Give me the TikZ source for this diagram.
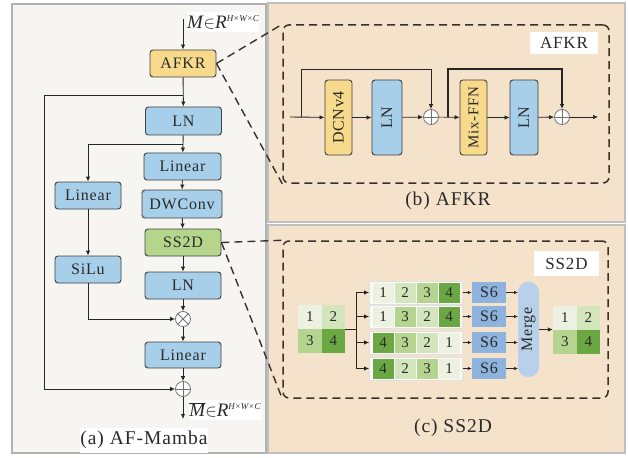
\documentclass[tikz,border=0pt]{standalone}
\usepackage{fontspec}
\setmainfont{Liberation Serif}[LetterSpace=5]
\newfontfamily\mathlike{Liberation Serif}
\usetikzlibrary{arrows.meta,calc}
\definecolor{panelA}{HTML}{F6F5F1}
\definecolor{panelB}{HTML}{F5E2CB}
\definecolor{blueb}{HTML}{A7CFEA}
\definecolor{yellowb}{HTML}{F8DA8C}
\definecolor{greenb}{HTML}{B6D58C}
\definecolor{cA}{HTML}{EDF1E2}
\definecolor{cB}{HTML}{D3E5BD}
\definecolor{cC}{HTML}{B4D48F}
\definecolor{cD}{HTML}{6BA843}
\definecolor{sixb}{HTML}{8DB3DE}
\definecolor{mergeb}{HTML}{B9D0EA}
\definecolor{dashc}{HTML}{3A302B}
\definecolor{txt}{HTML}{2A2A2A}
\newcommand{\shapetxt}{{\raisebox{7pt}{\fontsize{9}{9}\selectfont\mathlike\itshape H×W×C}}}
\tikzset{
  box/.style={draw=black!75, line width=0.9pt, rounded corners=3pt, inner sep=0pt,
    font=\fontsize{16}{18}\selectfont, text=txt},
  bluebox/.style={box, fill=blueb},
  yelbox/.style={box, fill=yellowb},
  grnbox/.style={box, fill=greenb},
  arr/.style={-{Latex[length=5pt,width=4.5pt]}, line width=0.9pt, draw=black!85},
  plainline/.style={line width=0.9pt, draw=black!85},
  sarr/.style={-{Latex[length=4pt,width=3.5pt]}, line width=0.7pt, draw=black!85},
  opnode/.style={circle, draw=black!55, fill=white, line width=0.8pt, minimum size=15pt, inner sep=0pt},
  dashbox/.style={draw=dashc, line width=1.5pt, dash pattern=on 8pt off 5pt, rounded corners=6pt, inner sep=0pt},
  dashconn/.style={draw=dashc, line width=1.4pt, dash pattern=on 8pt off 5pt},
  lblwhite/.style={fill=white, inner sep=0pt, font=\fontsize{17}{19}\selectfont, text=txt},
  caption/.style={font=\fontsize{19.5}{21}\selectfont, text=txt},
  cell/.style={minimum width=21pt, minimum height=20pt, inner sep=0pt, font=\fontsize{15}{16}\selectfont, text=txt},
  bigcell/.style={minimum width=23.5pt, minimum height=24pt, inner sep=0pt, font=\fontsize{15}{16}\selectfont, text=txt},
  rowbox/.style={draw=black!12, fill=white!70!cA, line width=0.8pt, minimum width=93pt, minimum height=23pt, inner sep=0pt},
  sixbox/.style={fill=sixb, minimum width=34pt, minimum height=21pt, inner sep=0pt, font=\fontsize{16}{18}\selectfont, text=txt},
}
\begin{document}
\begin{tikzpicture}[x=1pt,y=-1pt]
\useasboundingbox (0,0) rectangle (628,457);
% panels
\fill[white] (0,0) rectangle (628,457);
\draw[fill=panelA, draw=black!30, line width=1.2pt] (12,4) rectangle (266,453);
\draw[fill=panelB, draw=black!25, line width=1.2pt] (268,3) rectangle (625,222);
\draw[fill=panelB, draw=black!25, line width=1.2pt] (268,225) rectangle (625,453);

% ---------- (a) AF-Mamba ----------
\node[lblwhite, minimum width=70pt, minimum height=20pt, font=\fontsize{19}{21}\selectfont\mathlike] (inM) at (223,22) {\textit{M}$\in$\textit{R}\shapetxt};
\coordinate (top) at (183,19);
\node[yelbox, minimum width=66pt, minimum height=27pt] (afkr) at (183,63.5) {AFKR};
\node[bluebox, minimum width=76pt, minimum height=28pt] (ln1) at (183.5,121) {LN};
\node[bluebox, minimum width=77pt, minimum height=27pt] (lin1) at (182.5,166.5) {Linear};
\node[bluebox, minimum width=66pt, minimum height=27pt] (linL) at (88,195.5) {Linear};
\node[bluebox, minimum width=80pt, minimum height=28pt] (dw) at (182,204) {DWConv};
\node[grnbox, minimum width=76pt, minimum height=27pt] (ss) at (183,242.5) {SS2D};
\node[bluebox, minimum width=66pt, minimum height=27pt] (silu) at (88,269.5) {SiLu};
\node[bluebox, minimum width=76pt, minimum height=27pt] (ln2) at (183,285.5) {LN};
\node[opnode] (ot) at (183,319) {};
\draw[black!55, line width=0.8pt] (ot.45) -- (ot.225) (ot.135) -- (ot.315);
\node[bluebox, minimum width=76pt, minimum height=26pt] (lin3) at (183,355) {Linear};
\node[opnode] (op) at (183,389) {};
\draw[black!55, line width=0.8pt] (op.north) -- (op.south) (op.west) -- (op.east);
\coordinate (outa) at (183,419);
\node[lblwhite, minimum width=70pt, minimum height=20pt, font=\fontsize{19}{21}\selectfont\mathlike] (outM) at (225,410) {$\overline{\mbox{\itshape M}}$$\in$\textit{R}\shapetxt};
\node[caption, fill=white, minimum width=122pt, minimum height=25pt, inner sep=0pt] (capa) at (144,440) {(a) AF-Mamba};

\coordinate (b1) at (183,95);
\coordinate (k1) at (44,95);
\coordinate (k2) at (44,389);
\coordinate (b2) at (183,144);
\coordinate (k3) at (88,144);

\draw[arr] (top) -- (afkr);
\draw[arr] (afkr) -- (ln1);
\draw[arr] (b1) -- (k1) -- (k2) -- (op);
\draw[arr] (ln1) -- (lin1);
\draw[arr] (b2) -- (k3) -- (linL);
\draw[arr] (lin1) -- (dw);
\draw[arr] (dw) -- (ss);
\draw[arr] (linL) -- (silu);
\draw[arr] (ss) -- (ln2);
\draw[arr] (ln2) -- (ot);
\draw[arr] (silu) |- (ot);
\draw[arr] (ot) -- (lin3);
\draw[arr] (lin3) -- (op);
\draw[arr] (op) -- (outa);

% ---------- (b) AFKR ----------
\node[dashbox, minimum width=326pt, minimum height=158pt] (dashb) at (446,104) {};
\node[lblwhite, minimum width=68pt, minimum height=22pt] (lblb) at (564,43) {AFKR};
\coordinate (inb) at (290,117);
\coordinate (br1) at (301,117);
\coordinate (up1) at (301,69);
\node[yelbox, rotate=90, minimum width=75pt, minimum height=27pt] (dcn) at (338.5,117.5) {DCNv4};
\node[bluebox, rotate=90, minimum width=75pt, minimum height=30pt] (lnb1) at (387,117.5) {LN};
\node[opnode] (op1) at (431,117) {};
\draw[black!55, line width=0.8pt] (op1.north) -- (op1.south) (op1.west) -- (op1.east);
\coordinate (br2) at (448,117);
\coordinate (up2) at (448,69);
\node[yelbox, rotate=90, minimum width=75pt, minimum height=27pt, font=\fontsize{15}{17}\selectfont] (mix) at (473.5,117.5) {Mix-FFN};
\node[bluebox, rotate=90, minimum width=75pt, minimum height=28pt] (lnb2) at (524,117.5) {LN};
\node[opnode] (op2) at (562,117) {};
\draw[black!55, line width=0.8pt] (op2.north) -- (op2.south) (op2.west) -- (op2.east);
\coordinate (outb) at (598,117);
\node[caption] (capb) at (448,201) {(b) AFKR};

\draw[arr] (inb) -- (dcn);
\draw[arr, line width=0.8pt] (br1) -- (up1) -| (op1);
\draw[arr] (dcn) -- (lnb1);
\draw[arr, line width=0.7pt] (lnb1) -- (op1);
\draw[arr, line width=0.7pt] (op1) -- (mix);
\draw[arr, line width=1.1pt] (br2) -- (up2) -| (op2);
\draw[arr, line width=0.7pt] (mix) -- (lnb2);
\draw[arr] (lnb2) -- (op2);
\draw[arr, line width=0.7pt] (op2) -- (outb);

% ---------- (c) SS2D ----------
\node[dashbox, minimum width=325pt, minimum height=157pt] (dashcbox) at (445.5,319.5) {};
\node[lblwhite, minimum width=65pt, minimum height=25pt] (lblc) at (566.5,263.5) {SS2D};

% input grid
\node[minimum width=47pt, minimum height=48pt, inner sep=0pt] (gin) at (321.5,329) {};
\node[bigcell, fill=cA] at (309.75,317) {1};
\node[bigcell, fill=cB] at (333.25,317) {2};
\node[bigcell, fill=cC] at (309.75,341) {3};
\node[bigcell, fill=cD] at (333.25,341) {4};

% rows
\node[rowbox] (r1) at (416,292.5) {};
\node[rowbox] (r2) at (416,316.5) {};
\node[rowbox] (r3) at (416,342.5) {};
\node[rowbox] (r4) at (416,368.5) {};
\foreach \y/\a/\ca/\b/\cb/\c/\cc/\d/\cd in
  {292.5/1/cA/2/cB/3/cC/4/cD,
   316.5/1/cA/3/cC/2/cB/4/cD,
   342.5/4/cD/3/cC/2/cB/1/cA,
   368.5/4/cD/2/cB/3/cC/1/cA}{
  \node[cell, fill=\ca] at (383,\y) {\a};
  \node[cell, fill=\cb] at (405,\y) {\b};
  \node[cell, fill=\cc] at (427,\y) {\c};
  \node[cell, fill=\cd] at (449,\y) {\d};
}
\coordinate (bc) at (356,329);
\coordinate (bt) at (356,292.5);
\coordinate (bb) at (356,368.5);
\draw[plainline] (gin.east) -- (bc);
\draw[plainline] (bt) -- (bb);
\draw[arr] (bt) -- (r1);
\draw[arr] (bc |- r2) -- (r2);
\draw[arr] (bc |- r3) -- (r3);
\draw[arr] (bb) -- (r4);

% S6
\node[sixbox] (s1) at (489,292.5) {S6};
\node[sixbox] (s2) at (489,316.5) {S6};
\node[sixbox] (s3) at (489,342.5) {S6};
\node[sixbox] (s4) at (489,368.5) {S6};
\draw[sarr] (r1) -- (s1);
\draw[sarr] (r2) -- (s2);
\draw[sarr] (r3) -- (s3);
\draw[sarr] (r4) -- (s4);

% Merge
\node[fill=mergeb, rotate=90, rounded corners=10pt, minimum width=95pt, minimum height=21pt, inner sep=0pt, font=\fontsize{16}{18}\selectfont, text=txt] (merge) at (528.5,329.5) {Merge};
\coordinate (mL) at (518,329.5);
\draw[sarr] (s1) -- (s1 -| mL);
\draw[sarr] (s2) -- (s2 -| mL);
\draw[sarr] (s3) -- (s3 -| mL);
\draw[sarr] (s4) -- (s4 -| mL);

% output grid
\node[minimum width=47pt, minimum height=48pt, inner sep=0pt] (gout) at (576.5,329.5) {};
\node[bigcell, fill=cA] at (564.75,317.5) {1};
\node[bigcell, fill=cB] at (588.25,317.5) {2};
\node[bigcell, fill=cC] at (564.75,341.5) {3};
\node[bigcell, fill=cD] at (588.25,341.5) {4};
\draw[arr] (merge) -- (gout);

\node[caption] (capc) at (453,428) {(c) SS2D};

% dashed zoom connectors
\draw[dashconn] (afkr.east) -- (dashb.north west);
\draw[dashconn] (afkr.east) -- (dashb.south west);
\draw[dashconn] (ss.east) -- (dashcbox.north west);
\draw[dashconn] (ss.east) -- (dashcbox.south west);
\end{tikzpicture}
\end{document}
